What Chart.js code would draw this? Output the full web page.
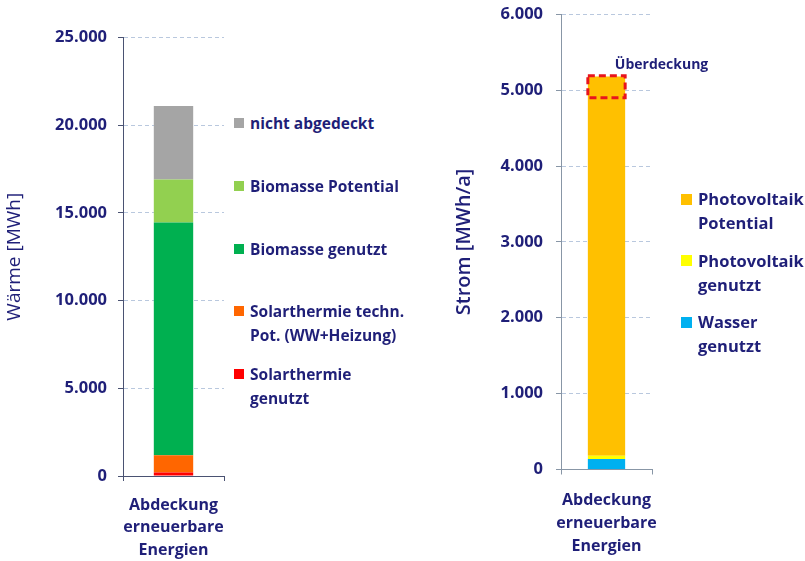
<!DOCTYPE html>
<html>
<head>
<meta charset="utf-8">
<script src="https://cdn.jsdelivr.net/npm/chart.js@4/dist/chart.umd.min.js"></script>
<style>
  body { margin: 0; background: #fff; }
  #page { position: relative; width: 805px; height: 561px; overflow: hidden; font-family: 'Open Sans', sans-serif; }
  .box { position: absolute; top: 0; height: 561px; }
  .legend-item { position: absolute; color: #1f1f78; font-weight: 700; line-height: 24px; white-space: nowrap; }
  .legend-item span.sw { position: absolute; }
</style>
</head>
<body>
<div id="page">
  <div class="box" style="left:0;width:230px"><canvas id="waerme"></canvas></div>
  <div class="box" style="left:400px;width:405px"><canvas id="strom"></canvas></div>
  <div id="legends"></div>
</div>
<script>
// Wärme (links), von unten nach oben gestapelt
const waermeCategory = [['Abdeckung', 'erneuerbare', 'Energien']];
const waermeLabels = [
    ['Solarthermie', 'genutzt'],
    ['Solarthermie techn.', 'Pot. (WW+Heizung)'],
    ['Biomasse genutzt'],
    ['Biomasse Potential'],
    ['nicht abgedeckt']
];
const waermeValues = [200, 980, 13270, 2450, 4200];
const waermeColors = ['#ff0000', '#ff6600', '#00b050', '#92d050', '#a5a5a5'];
const waermeTicks = [0, 5000, 10000, 15000, 20000, 25000];

// Strom (rechts)
const stromCategory = [['Abdeckung', 'erneuerbare', 'Energien']];
const stromLabels = [
    ['Wasser', 'genutzt'],
    ['Photovoltaik', 'genutzt'],
    ['Photovoltaik', 'Potential']
];
const stromValues = [140, 40, 5000];
const stromColors = ['#00b0f0', '#ffff00', '#ffc000'];
const stromTicks = [0, 1000, 2000, 3000, 4000, 5000, 6000];
const ueberdeckung = [4900, 5190]; // Bereich der Überdeckung

const textColor = '#1f1f78';
const gridColor = '#b9c8de';

function formatNumber(v) {
    return String(v).replace(/\B(?=(\d{3})+(?!\d))/g, '.');
}

function buildDatasets(labels, values, colors) {
    const sets = [];
    for (let i = 0; i < values.length; i++) {
        sets.push({
            label: labels[i].join(' '),
            data: [values[i]],
            backgroundColor: colors[i],
            borderWidth: 0
        });
    }
    return sets;
}

// gestapelte Säule mit fester Achsengeometrie
function createChart(canvas, cfg) {
    return new Chart(canvas, {
        type: 'bar',
        data: {
            labels: cfg.category,
            datasets: buildDatasets(cfg.labels, cfg.values, cfg.colors)
        },
        options: {
            responsive: true,
            maintainAspectRatio: false,
            animation: false,
            layout: { padding: cfg.padding },
            datasets: { bar: { barPercentage: cfg.barPct, categoryPercentage: 1 } },
            plugins: { legend: { display: false }, tooltip: { enabled: false } },
            scales: {
                x: {
                    stacked: true,
                    grid: { drawOnChartArea: false, drawTicks: true, tickLength: 5, color: cfg.axisColor, offset: true },
                    border: { color: cfg.axisColor, width: 1 },
                    ticks: {
                        color: textColor,
                        padding: cfg.xPad,
                        font: { family: 'Open Sans', size: 16, weight: 'bold', lineHeight: cfg.xLine }
                    },
                    afterFit: scale => {
                        scale.height = cfg.xHeight;
                        scale.paddingLeft = 0;
                        scale.paddingRight = 0;
                    }
                },
                y: {
                    stacked: true,
                    min: 0,
                    max: cfg.ticks[cfg.ticks.length - 1],
                    afterBuildTicks: scale => { scale.ticks = cfg.ticks.map(v => ({ value: v })); },
                    grid: { color: gridColor, tickColor: cfg.axisColor, tickLength: 5 },
                    border: { color: cfg.axisColor, width: 1, dash: [4, 3] },
                    ticks: {
                        color: textColor,
                        padding: cfg.yPad,
                        font: { family: 'Open Sans', size: 16.5, weight: 'bold' },
                        callback: v => formatNumber(v)
                    },
                    title: {
                        display: true,
                        text: cfg.title,
                        color: textColor,
                        padding: cfg.titlePad,
                        font: { family: 'Open Sans', size: cfg.titleSize, weight: cfg.titleWeight, lineHeight: 1.2 }
                    },
                    afterFit: scale => {
                        scale.width = cfg.yWidth;
                        scale.paddingTop = 0;
                        scale.paddingBottom = 0;
                    }
                }
            }
        },
        plugins: cfg.plugins || []
    });
}

// gestrichelter Rahmen für die Überdeckung
const overlapPlugin = {
    id: 'overlap',
    afterDatasetsDraw(chart) {
        const bar = chart.getDatasetMeta(2).data[0];
        const y = chart.scales.y;
        const top = y.getPixelForValue(ueberdeckung[1]);
        const bottom = y.getPixelForValue(ueberdeckung[0]);
        const left = bar.x - bar.width / 2;
        const ctx = chart.ctx;
        ctx.save();
        ctx.strokeStyle = '#e8141c';
        ctx.lineWidth = 3;
        ctx.setLineDash([7, 4]);
        ctx.strokeRect(left, top, bar.width, bottom - top);
        ctx.setLineDash([]);
        ctx.fillStyle = textColor;
        ctx.font = 'bold 14px "Open Sans"';
        ctx.textBaseline = 'middle';
        ctx.fillText('Überdeckung', left + 27, top - 11);
        ctx.restore();
    }
};

createChart(document.getElementById('waerme'), {
    category: waermeCategory, labels: waermeLabels, values: waermeValues, colors: waermeColors,
    ticks: waermeTicks, title: 'Wärme [MWh]', titleWeight: 'normal', titleSize: 19, titlePad: 3.6,
    padding: { top: 37.5, right: 6, bottom: 0, left: 0 },
    yWidth: 123, xHeight: 85, yPad: 11, xPad: 13, xLine: 1.4, barPct: 0.39,
    axisColor: '#4a5272'
});

createChart(document.getElementById('strom'), {
    category: stromCategory, labels: stromLabels, values: stromValues, colors: stromColors,
    ticks: stromTicks, title: 'Strom [MWh/a]', titleWeight: 600, titleSize: 20, titlePad: 52,
    padding: { top: 14.3, right: 153, bottom: 0, left: 0 },
    yWidth: 161, xHeight: 91.5, yPad: 13, xPad: 15, xLine: 1.42, barPct: 0.41,
    axisColor: '#8896a6',
    plugins: [overlapPlugin]
});

// Legenden, oberstes Element zuerst
const legendsElement = document.getElementById('legends');
function showLegend(labels, colors, left, firstTop, step, swatch, fontSize) {
    let row = 0;
    for (let i = labels.length - 1; i >= 0; i--) {
        const item = document.createElement('div');
        item.className = 'legend-item';
        item.style.fontSize = fontSize + 'px';
        item.style.left = (left + swatch + 6) + 'px';
        item.style.top = (firstTop + row * step - 12) + 'px';
        item.innerHTML = labels[i].join('<br>');
        const sw = document.createElement('span');
        sw.className = 'sw';
        sw.style.left = -(swatch + 6) + 'px';
        sw.style.width = swatch + 'px';
        sw.style.height = swatch + 'px';
        sw.style.top = (12 - swatch / 2) + 'px';
        sw.style.background = colors[i];
        item.appendChild(sw);
        legendsElement.appendChild(item);
        row++;
    }
}
showLegend(waermeLabels, waermeColors, 234, 123, 62.75, 10, 15.5);
showLegend(stromLabels, stromColors, 681, 199, 61.5, 11, 16.5);
</script>
</body>
</html>
